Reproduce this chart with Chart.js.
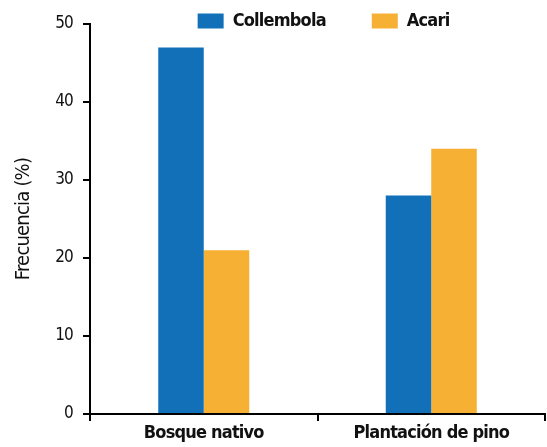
<!DOCTYPE html>
<html>
<head>
<meta charset="utf-8">
<script src="https://cdn.jsdelivr.net/npm/chart.js@4/dist/chart.umd.min.js"></script>
<style>
html,body{margin:0;padding:0;background:#fff;}
#wrap{width:547px;height:447px;}
</style>
</head>
<body>
<div id="wrap"><canvas id="c" width="547" height="447"></canvas></div>
<script>
const categories = ['Bosque nativo', 'Plantación de pino'];
const seriesNames = ['Collembola', 'Acari'];
const collembola = [47, 28];
const acari = [21, 34];
const yTickValues = [0, 10, 20, 30, 40, 50];
const yTitle = 'Frecuencia (%)';

const FF = "'Liberation Sans Narrow', 'DejaVu Sans Condensed', 'Liberation Sans', sans-serif";
const LEG_PAD = 46;

const layoutFix = {
  id: 'layoutFix',
  beforeLayout(chart) {
    chart.ctx.letterSpacing = '-0.8px';
    const lg = chart.legend;
    if (lg && !lg._patched) {
      const orig = lg.fit;
      lg.fit = function () { orig.call(this); this.height = 24; };
      lg._patched = true;
    }
  },
  afterLayout(chart) {
    const lg = chart.legend, ca = chart.chartArea;
    if (!lg) return;
    lg.left = ca.left + 6; lg.right = ca.right + 6; lg.width = ca.right - ca.left;
    lg.top = 13 - LEG_PAD - 1;
    lg.bottom = 60; lg.height = lg.bottom - lg.top;
  },
  beforeDraw(chart) {
    chart.ctx.letterSpacing = '-0.8px';
  }
};

new Chart(document.getElementById('c'), {
  type: 'bar',
  data: {
    labels: categories,
    datasets: [
      { label: seriesNames[0], data: collembola, backgroundColor: '#1170B8', borderWidth: 0 },
      { label: seriesNames[1], data: acari, backgroundColor: '#F6B034', borderWidth: 0 }
    ]
  },
  options: {
    responsive: false,
    devicePixelRatio: 1,
    animation: false,
    datasets: { bar: { barPercentage: 1, categoryPercentage: 0.4 } },
    layout: { padding: { left: 0, right: 2, top: 0, bottom: 0 } },
    plugins: {
      tooltip: { enabled: false },
      legend: {
        position: 'top',
        align: 'center',
        labels: {
          boxWidth: 26, boxHeight: 15, padding: LEG_PAD,
          color: '#111',
          font: { family: FF, size: 18, weight: 'bold' }
        }
      }
    },
    scales: {
      x: {
        grid: { offset: true, drawOnChartArea: false, tickLength: 7, color: '#000', lineWidth: 2 },
        border: { color: '#000', width: 2 },
        ticks: { color: '#111', padding: 2, font: { family: FF, size: 18, weight: 'bold' } },
        afterFit(s) { s.height = 33; }
      },
      y: {
        min: 0, max: 50,
        afterBuildTicks(s) { s.ticks = yTickValues.map(v => ({ value: v })); },
        grid: { drawOnChartArea: false, tickLength: 7, color: '#000', lineWidth: 2 },
        border: { color: '#000', width: 2 },
        ticks: { color: '#111', padding: 10, font: { family: FF, size: 17 } },
        title: { display: true, text: yTitle, color: '#111', padding: { top: 12, bottom: 4 }, font: { family: FF, size: 20 } },
        afterFit(s) { s.width = 90; }
      }
    }
  },
  plugins: [layoutFix]
});
</script>
</body>
</html>
